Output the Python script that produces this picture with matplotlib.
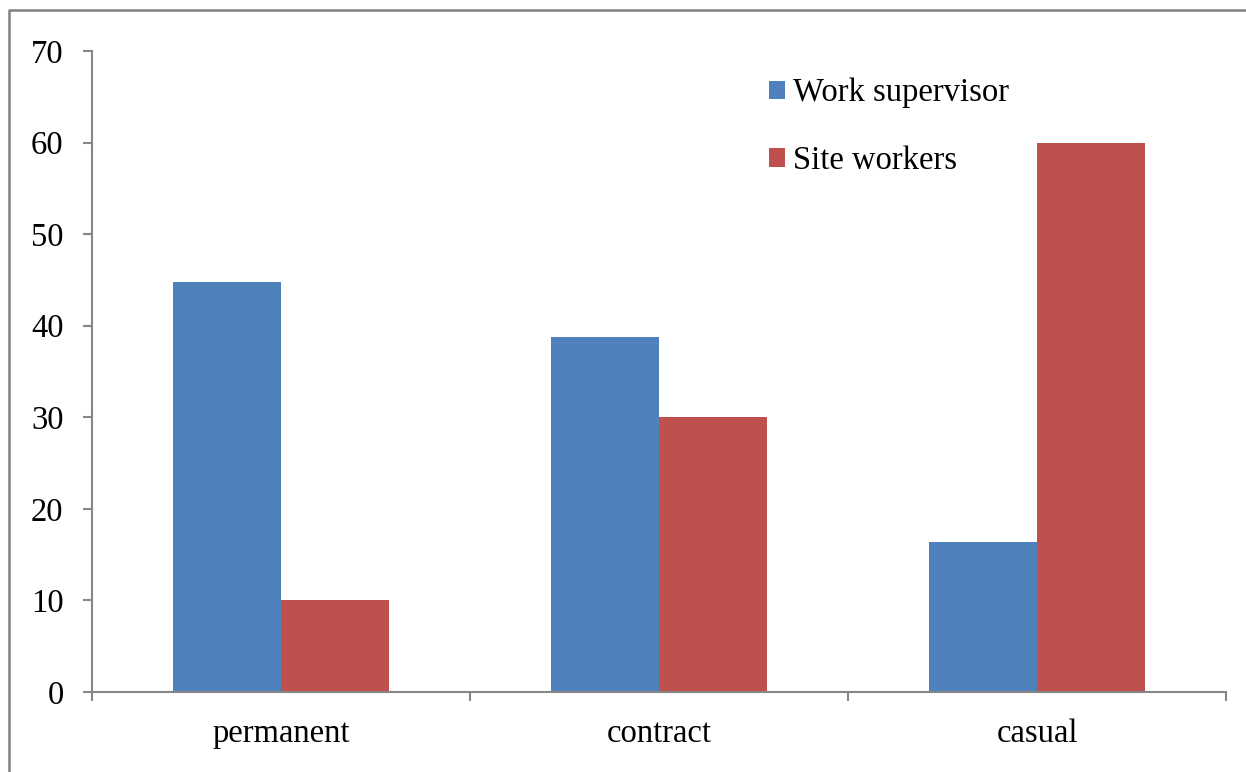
import matplotlib
matplotlib.use("Agg")
import matplotlib.pyplot as plt
from matplotlib.lines import Line2D
import numpy as np

categories = ["permanent", "contract", "casual"]
work_supervisor = [44.8, 38.8, 16.4]
site_workers = [10, 30, 60]
series_names = ["Work supervisor", "Site workers"]
y_ticks = [0, 10, 20, 30, 40, 50, 60, 70]

plt.rcParams["font.family"] = ["Liberation Serif", "DejaVu Serif"]

W, H = 1246, 772
fig = plt.figure(figsize=(W / 100, H / 100), dpi=100)
ax = fig.add_axes([92 / W, 1 - 692 / H, (1226 - 92) / W, (692 - 51) / H])

x = np.arange(len(categories))
bw = 108 / 378
ax.bar(x - bw / 2, work_supervisor, bw, color="#4F81BD", label=series_names[0], linewidth=0)
ax.bar(x + bw / 2, site_workers, bw, color="#C0504D", label=series_names[1], linewidth=0)

ax.set_xlim(-0.5, len(categories) - 0.5)
ax.set_ylim(0, 70)

grey = "#868686"
for s in ("top", "right"):
    ax.spines[s].set_visible(False)
for s in ("left", "bottom"):
    ax.spines[s].set_color(grey)
    ax.spines[s].set_linewidth(1.5)

ax.set_yticks(y_ticks)
ax.tick_params(axis="y", direction="out", length=6.5, width=1.5, color=grey,
               labelsize=23.5, pad=14)

ax.set_xticks(np.arange(-0.5, len(categories), 1.0))
ax.set_xticklabels([])
ax.tick_params(axis="x", which="major", direction="out", length=6.5, width=1.5, color=grey)
ax.set_xticks(x, minor=True)
ax.set_xticklabels(categories, minor=True)
ax.tick_params(axis="x", which="minor", length=0, labelsize=23.5, pad=19)

leg = ax.legend(loc="upper left", bbox_to_anchor=(769 / W, 1 - 78 / H),
                bbox_transform=fig.transFigure, frameon=False, fontsize=23.5,
                handlelength=0.5, handleheight=0.5, handletextpad=0.25,
                labelspacing=1.13, borderpad=0, borderaxespad=0)

# outer chart frame
fy = 1 - 10 / H
fx = 9 / W
fig.add_artist(Line2D([1.0, fx, fx], [fy, fy, 0.0], transform=fig.transFigure,
                      color="#808080", linewidth=1.8))

fig.savefig("out.png", dpi=100)
